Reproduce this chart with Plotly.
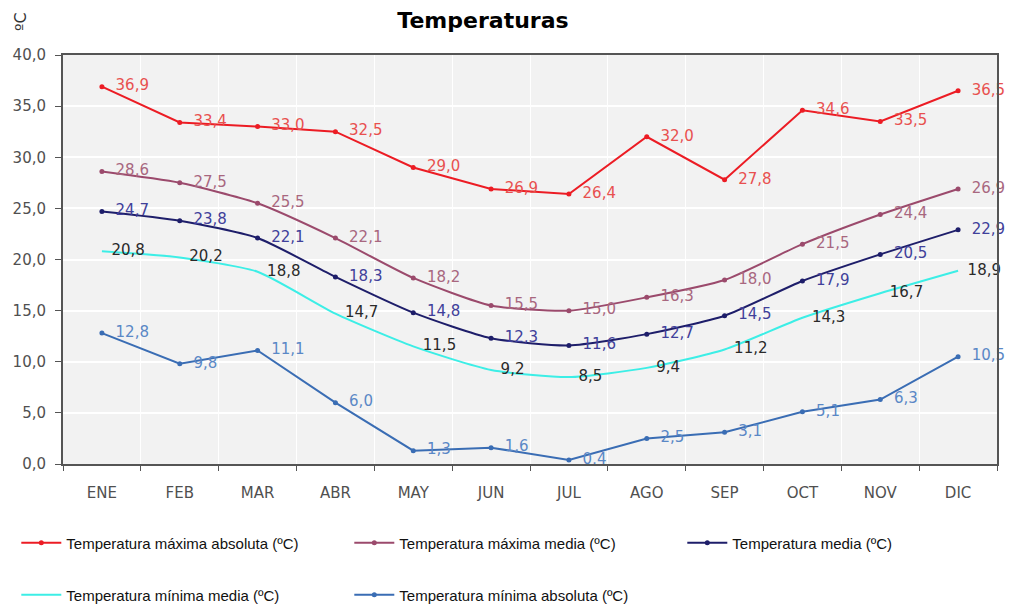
import plotly.graph_objects as go

months = ["ENE", "FEB", "MAR", "ABR", "MAY", "JUN", "JUL", "AGO", "SEP", "OCT", "NOV", "DIC"]

t_max_abs = [36.9, 33.4, 33.0, 32.5, 29.0, 26.9, 26.4, 32.0, 27.8, 34.6, 33.5, 36.5]
t_max_med = [28.6, 27.5, 25.5, 22.1, 18.2, 15.5, 15.0, 16.3, 18.0, 21.5, 24.4, 26.9]
t_med = [24.7, 23.8, 22.1, 18.3, 14.8, 12.3, 11.6, 12.7, 14.5, 17.9, 20.5, 22.9]
t_min_med = [20.8, 20.2, 18.8, 14.7, 11.5, 9.2, 8.5, 9.4, 11.2, 14.3, 16.7, 18.9]
t_min_abs = [12.8, 9.8, 11.1, 6.0, 1.3, 1.6, 0.4, 2.5, 3.1, 5.1, 6.3, 10.5]

FONT = "DejaVu Sans, Verdana, sans-serif"
LEG_FONT = "Liberation Sans, Arial, sans-serif"

series = [
    # name, values, line colour, label colour, shape, markers, legend
    ("Temperatura máxima absoluta (ºC)", t_max_abs, "#ec1c24", "#e8504f", "linear", True, "legend"),
    ("Temperatura máxima media (ºC)", t_max_med, "#9b4a6c", "#a8677f", "spline", True, "legend"),
    ("Temperatura media (ºC)", t_med, "#1e1e6a", "#40409a", "spline", True, "legend"),
    ("Temperatura mínima media (ºC)", t_min_med, "#3ceee6", "#2a2a2a", "spline", False, "legend2"),
    ("Temperatura mínima absoluta (ºC)", t_min_abs, "#3a6db4", "#5a88c6", "linear", True, "legend2"),
]

fig = go.Figure()
for name, vals, color, lcolor, shape, markers, leg in series:
    fig.add_trace(go.Scatter(
        x=months, y=vals, name=name,
        mode="lines+markers+text" if markers else "lines+text",
        line=dict(color=color, width=2, shape=shape, smoothing=0.6),
        marker=dict(color=color, size=5),
        text=vals,
        texttemplate="  %{y:.1f}",
        textposition="middle right",
        textfont=dict(family=FONT, size=15, color=lcolor),
        legend=leg,
        cliponaxis=False,
    ))

legend_common = dict(
    orientation="h",
    xanchor="left",
    yanchor="middle",
    entrywidth=278,
    entrywidthmode="pixels",
    font=dict(family=LEG_FONT, size=15, color="#111111"),
    bgcolor="rgba(0,0,0,0)",
    itemwidth=40,
)

fig.update_layout(
    width=1013,
    height=607,
    margin=dict(l=63, r=16, t=55, b=143, autoexpand=False),
    paper_bgcolor="white",
    plot_bgcolor="#f2f2f2",
    separators=", ",
    title=dict(
        text="<b>Temperaturas</b>",
        x=483 / 1013, xref="container", xanchor="center",
        y=1 - 20 / 607, yref="container", yanchor="middle",
        font=dict(family=FONT, size=22, color="#000000"),
    ),
    legend=dict(x=-0.05, y=-(543 - 464) / 409, **legend_common),
    legend2=dict(x=-0.05, y=-(595 - 464) / 409, **legend_common),
    xaxis=dict(
        type="category",
        range=[-0.5, 11.5],
        tickson="boundaries",
        ticks="outside",
        ticklen=5,
        tickcolor="#555555",
        showgrid=True,
        gridcolor="#ffffff",
        gridwidth=1,
        showline=True,
        linecolor="#555555",
        linewidth=2,
        mirror=True,
        tickfont=dict(family=FONT, size=15, color="#505050"),
        ticklabelstandoff=14,
    ),
    yaxis=dict(
        range=[0, 40],
        dtick=5,
        tickformat=".1f",
        ticks="outside",
        ticklen=6,
        tickcolor="#555555",
        showgrid=True,
        gridcolor="#ffffff",
        gridwidth=2,
        showline=True,
        linecolor="#555555",
        linewidth=2,
        mirror=True,
        zeroline=False,
        tickfont=dict(family=FONT, size=15, color="#505050"),
        ticklabelstandoff=6,
    ),
    annotations=[dict(
        text="ºC", textangle=-90,
        xref="paper", yref="paper",
        x=(20 - 63) / 934, y=1 + (55 - 22) / 409,
        xanchor="center", yanchor="middle",
        showarrow=False,
        font=dict(family=FONT, size=16, color="#333333"),
    )],
)

fig.write_html("out.html")
